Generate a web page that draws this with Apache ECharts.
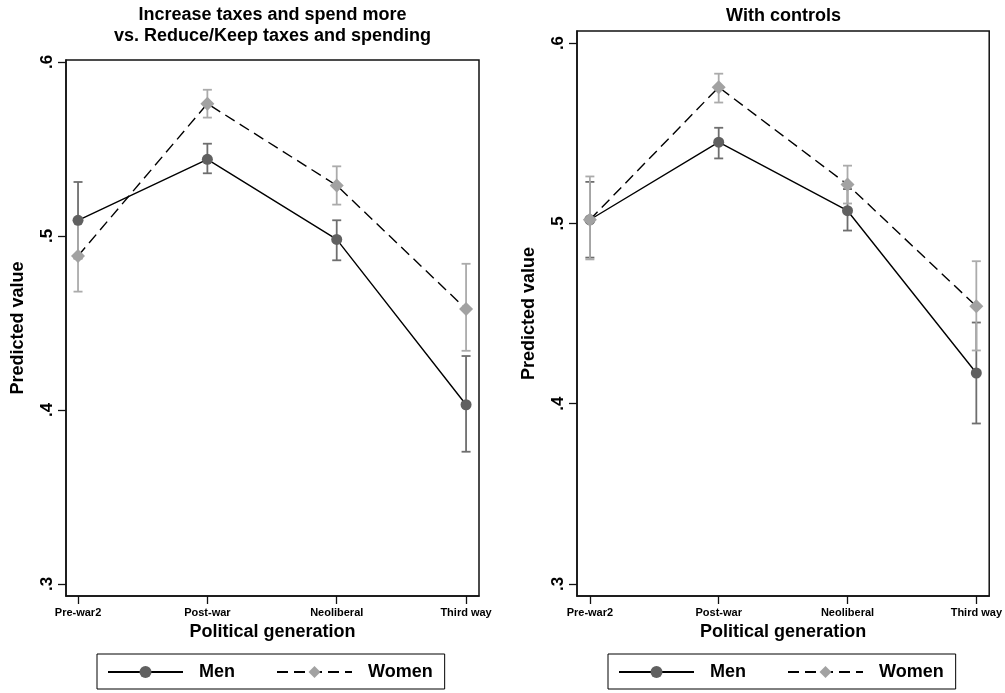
<!DOCTYPE html>
<html>
<head>
<meta charset="utf-8">
<script src="https://cdn.jsdelivr.net/npm/echarts@6/dist/echarts.min.js"></script>
<style>html,body{margin:0;padding:0;background:#fff}#c{width:1005px;height:693px}</style>
</head>
<body>
<div id="c"></div>
<script>
// ---- data ----
const categories = ['Pre-war2', 'Post-war', 'Neoliberal', 'Third way'];
const yTicks = [0.3, 0.4, 0.5, 0.6];
const yTickLabels = ['.3', '.4', '.5', '.6'];

const leftMen      = [0.509, 0.544, 0.498, 0.403];
const leftMenLo    = [0.487, 0.536, 0.486, 0.376];
const leftMenHi    = [0.531, 0.553, 0.509, 0.431];
const leftWomen    = [0.4885, 0.576, 0.529, 0.458];
const leftWomenLo  = [0.468, 0.568, 0.518, 0.434];
const leftWomenHi  = [0.509, 0.584, 0.540, 0.484];

const rightMen     = [0.502, 0.545, 0.507, 0.417];
const rightMenLo   = [0.481, 0.536, 0.496, 0.389];
const rightMenHi   = [0.523, 0.553, 0.519, 0.445];
const rightWomen   = [0.502, 0.5755, 0.5215, 0.454];
const rightWomenLo = [0.480, 0.567, 0.511, 0.4295];
const rightWomenHi = [0.526, 0.583, 0.532, 0.479];

const titleLeft = 'Increase taxes and spend more\nvs. Reduce/Keep taxes and spending';
const titleRight = 'With controls';
const xTitle = 'Political generation';
const yTitle = 'Predicted value';

// ---- build ----
const FONT = '"Liberation Sans", Arial, Helvetica, sans-serif';
const MEN_MARK = '#606060', MEN_CI = '#6e6e6e';
const WOMEN_MARK = '#a2a2a2', WOMEN_CI = '#ababab';

const pts = arr => arr.map((v, i) => [i, v]);
const ci = (lo, hi) => lo.map((l, i) => [i, l, hi[i]]);

function ciSeries(name, idx, lo, hi, color) {
  return {
    type: 'custom', name: name, xAxisIndex: idx, yAxisIndex: idx, silent: true, z: 2,
    encode: {x: 0, y: [1, 2]},
    data: ci(lo, hi),
    renderItem: function (params, api) {
      const x = api.value(0);
      const a = api.coord([x, api.value(1)]);
      const b = api.coord([x, api.value(2)]);
      const w = 4.5;
      const st = {stroke: color, lineWidth: 1.8, fill: null};
      return {type: 'group', children: [
        {type: 'line', shape: {x1: a[0], y1: a[1], x2: b[0], y2: b[1]}, style: st},
        {type: 'line', shape: {x1: a[0] - w, y1: a[1], x2: a[0] + w, y2: a[1]}, style: st},
        {type: 'line', shape: {x1: b[0] - w, y1: b[1], x2: b[0] + w, y2: b[1]}, style: st}
      ]};
    }
  };
}
function lineSeries(name, idx, vals, women) {
  return {
    type: 'line', name: name, xAxisIndex: idx, yAxisIndex: idx, z: women ? 4 : 3,
    data: pts(vals),
    symbol: women ? 'diamond' : 'circle',
    symbolSize: women ? 14 : 11,
    itemStyle: {color: women ? WOMEN_MARK : MEN_MARK},
    lineStyle: {color: '#000', width: 1.4, type: women ? [11, 6] : 'solid'},
    emphasis: {disabled: true}
  };
}
function xAxis(idx, min, max) {
  return {
    type: 'value', gridIndex: idx, min: min, max: max,
    splitLine: {show: false},
    axisLine: {show: true, onZero: false, lineStyle: {color: '#111', width: 1.5}},
    axisTick: {show: true, length: 8, customValues: [0, 1, 2, 3], lineStyle: {color: '#111', width: 1.3}},
    axisLabel: {customValues: [0, 1, 2, 3], margin: 11, formatter: v => categories[Math.round(v)],
      fontFamily: FONT, fontSize: 11, fontWeight: 'bold', color: '#000'},
    name: xTitle, nameLocation: 'middle', nameGap: 25,
    nameTextStyle: {fontFamily: FONT, fontSize: 18, fontWeight: 'bold', color: '#000'}
  };
}
function yAxis(idx, min, max) {
  return {
    type: 'value', gridIndex: idx, min: min, max: max,
    splitLine: {show: false},
    axisLine: {show: true, onZero: false, lineStyle: {color: '#111', width: 1.5}},
    axisTick: {show: true, length: 8, customValues: yTicks, lineStyle: {color: '#111', width: 1.3}},
    axisLabel: {customValues: yTicks, rotate: 90, margin: 10,
      formatter: v => yTickLabels[yTicks.findIndex(t => Math.abs(t - v) < 1e-6)],
      fontFamily: FONT, fontSize: 17, fontWeight: 'bold', color: '#000'},
    name: yTitle, nameLocation: 'middle', nameGap: 39, nameRotate: 90,
    nameTextStyle: {fontFamily: FONT, fontSize: 18, fontWeight: 'bold', color: '#000'}
  };
}
function legend(left) {
  return {
    left: left, top: 654, orient: 'horizontal',
    data: ['Men', 'Women'],
    selectedMode: false,
    itemWidth: 75, itemHeight: 15, itemGap: 41,
    padding: [9, 12, 8, 10],
    borderColor: '#000', borderWidth: 1,
    textStyle: {fontFamily: FONT, fontSize: 18, fontWeight: 'bold', color: '#000', padding: [0, 0, 0, 11]}
  };
}

const option = {
  animation: false,
  backgroundColor: '#fff',
  grid: [
    {left: 66, top: 60, width: 413, height: 536, show: true, borderColor: '#111', borderWidth: 1.5, backgroundColor: '#fff'},
    {left: 577, top: 31, width: 413, height: 565, show: true, borderColor: '#111', borderWidth: 1.5, backgroundColor: '#fff'}
  ],
  xAxis: [xAxis(0, -0.093, 3.1), xAxis(1, -0.1, 3.1)],
  yAxis: [yAxis(0, 0.2931, 0.6011), yAxis(1, 0.29333, 0.60667)],
  legend: [legend(97), legend(608)],
  graphic: [
    {type: 'text', x: 272.5, y: 26, silent: true,
      style: {text: titleLeft, align: 'center', verticalAlign: 'middle', lineHeight: 21,
        fontFamily: FONT, fontSize: 18, fontWeight: 'bold', fill: '#000'}},
    {type: 'text', x: 783.5, y: 16, silent: true,
      style: {text: titleRight, align: 'center', verticalAlign: 'middle',
        fontFamily: FONT, fontSize: 18, fontWeight: 'bold', fill: '#000'}}
  ],
  series: [
    ciSeries('Men CI L', 0, leftMenLo, leftMenHi, MEN_CI),
    ciSeries('Women CI L', 0, leftWomenLo, leftWomenHi, WOMEN_CI),
    lineSeries('Men', 0, leftMen, false),
    lineSeries('Women', 0, leftWomen, true),
    ciSeries('Men CI R', 1, rightMenLo, rightMenHi, MEN_CI),
    ciSeries('Women CI R', 1, rightWomenLo, rightWomenHi, WOMEN_CI),
    lineSeries('Men', 1, rightMen, false),
    lineSeries('Women', 1, rightWomen, true)
  ]
};
const chart = echarts.init(document.getElementById('c'), null, {renderer: 'canvas'});
chart.setOption(option);
</script>
</body>
</html>
